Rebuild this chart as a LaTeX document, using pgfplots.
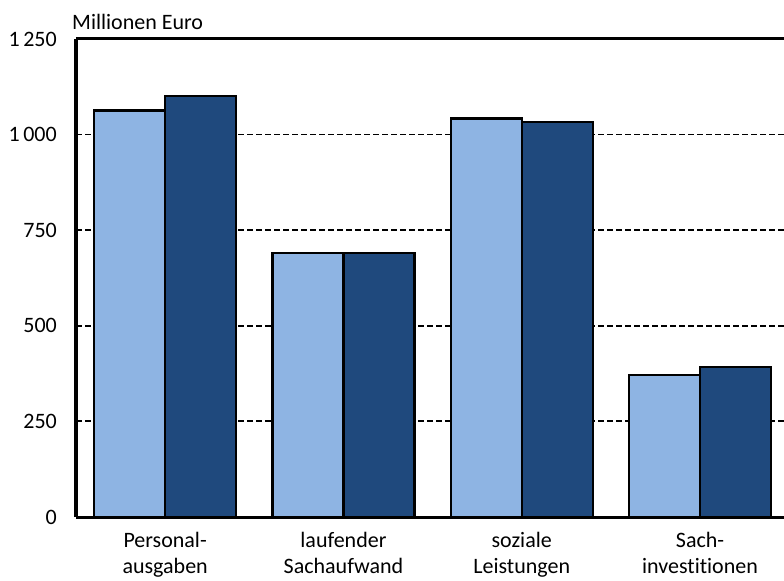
\documentclass[border=0pt]{standalone}
\usepackage{fontspec}
\setmainfont{Carlito}[Ligatures={NoCommon}]
\usepackage{pgfplots}
\pgfplotsset{compat=1.18}
\definecolor{lightbar}{HTML}{8EB4E3}
\definecolor{darkbar}{HTML}{1F497D}
\begin{document}
\fontsize{22bp}{26bp}\selectfont
\begin{tikzpicture}
\begin{axis}[
  scale only axis,
  width=708bp, height=478bp,
  xmin=-0.5, xmax=3.471,
  ymin=0, ymax=1250,
  axis x line=box, axis y line=left,
  axis line style={-, line width=3bp, black},
  xtick={0,1,2,3},
  xticklabels={{Personal-\\ausgaben},{laufender\\Sachaufwand},{soziale\\Leistungen},{Sach-\\investitionen}},
  x tick label style={align=center, anchor=north, inner sep=0pt, yshift=-15bp, font=\fontsize{22bp}{26bp}\selectfont},
  ytick={0,250,500,750,1000,1250},
  yticklabels={0,250,500,750,1\,000,1\,250},
  y tick label style={anchor=east, inner sep=0pt, xshift=-19bp, font=\fontsize{22bp}{26bp}\selectfont},
  major tick length=0pt,
  ymajorgrids,
  grid style={black, line width=1.8bp, dash pattern=on 6bp off 3bp},
  clip=false,
]
\addplot[ybar, bar width=0.398, bar shift=-0.199, fill=lightbar, draw=black, line width=2.2bp] coordinates {(0,1063) (1,691) (2,1042) (3,372)};
\addplot[ybar, bar width=0.398, bar shift=0.199, fill=darkbar, draw=black, line width=2.2bp] coordinates {(0,1100) (1,691) (2,1032) (3,393)};
\coordinate (bl) at (rel axis cs:0,0);
\coordinate (tr) at (rel axis cs:1,1);
\coordinate (tl) at (rel axis cs:0,1);
\end{axis}
\node[anchor=base west, inner sep=0pt, font=\fontsize{22bp}{26bp}\selectfont] at ([xshift=-4bp, yshift=9bp]tl) {Millionen Euro};
\pgfresetboundingbox
\path ([xshift=-76bp, yshift=-64bp]bl) rectangle ([yshift=39bp]tr);
\end{tikzpicture}
\end{document}
